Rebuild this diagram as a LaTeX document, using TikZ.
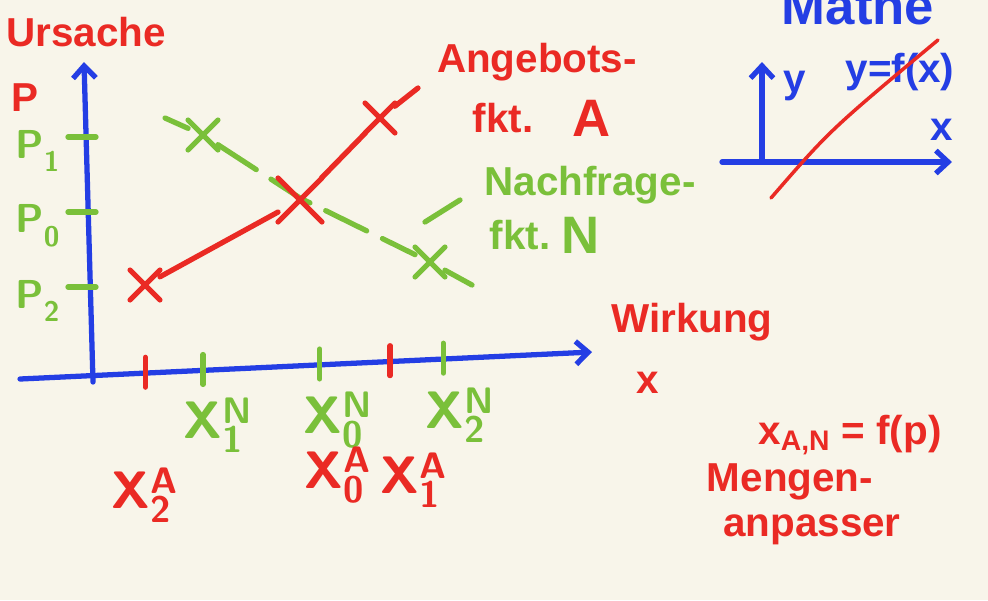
\documentclass[tikz,border=0pt]{standalone}
\usepackage{fontspec}
\setmainfont{Liberation Sans}
\usepackage{tikz}
\usetikzlibrary{positioning,shapes.misc,arrows.meta}

\definecolor{stiftrot}{RGB}{234,42,36}
\definecolor{stiftgruen}{RGB}{122,192,58}
\definecolor{stiftblau}{RGB}{36,62,228}
\definecolor{papier}{RGB}{248,245,234}

\newcommand{\mlab}[3]{\ensuremath{\mathsf{#1}^{\mathsf{#2}}_{\mathsf{#3}}}}

\tikzset{
  achse/.style={stiftblau, line width=3pt, -{Straight Barb[length=7pt,width=13pt,line width=3pt]}},
  kreuz/.style={cross out, draw, line width=3pt, minimum size=14pt, inner sep=0pt},
  strich/.style={line width=3pt, line cap=round},
  schrift/.style={font=\fontsize{23}{25}\selectfont\bfseries\boldmath, inner sep=1pt},
  gross/.style={font=\fontsize{30}{32}\selectfont\bfseries\boldmath, inner sep=1pt}
}

\begin{document}
\begin{tikzpicture}[x=0.02cm, y=-0.02cm, line cap=round]
\fill[papier] (0,0) rectangle (988,600);
\useasboundingbox (0,0) rectangle (988,600);
\clip (0,0) rectangle (988,600);

  % Achsen
  \coordinate (O) at (93,382);
  \coordinate (ytop) at (84,62);
  \coordinate (xstart) at (20,379);
  \coordinate (xend) at (592,352);
  \draw[achse] (O) -- (ytop);
  \draw[achse] (xstart) -- (xend);
  \node[schrift, stiftrot] (ursache) at (86,32) {Ursache};
  \node[schrift, stiftrot] (p) at (25,98) {P};
  \node[schrift, stiftrot] (wirkung) at (692,322) {Wirkung};
  \node[schrift, stiftrot] (x) at (648,383) {x};

  % Preise
  \foreach \name/\y/\i in {p1/137/1, p0/212/0, p2/287/2} {
    \draw[strich, stiftgruen] (68,\y) -- (96,\y);
    \node[schrift, stiftgruen] (\name) at (38,\y+14) {\mlab{P}{}{\i}};
  }

  % Mengen auf der x-Achse
  \path (xstart) -- (xend)
    coordinate[pos=.219] (tA2) coordinate[pos=.320] (tN1)
    coordinate[pos=.524] (tN0) coordinate[pos=.647] (tA1)
    coordinate[pos=.740] (tN2);
  \foreach \t in {tA2, tA1}
    \draw[strich, stiftrot] ([yshift=9pt]\t) -- ([yshift=-8pt]\t);
  \foreach \t in {tN1, tN0, tN2}
    \draw[strich, stiftgruen] ([yshift=9pt]\t) -- ([yshift=-8pt]\t);
  \node[gross, stiftgruen] (xN1) at (218,425) {\mlab{X}{N}{1}};
  \node[gross, stiftgruen] (xN0) at (338,420) {\mlab{X}{N}{0}};
  \node[gross, stiftgruen] (xN2) at (460,415) {\mlab{X}{N}{2}};
  \node[gross, stiftrot] (xA2) at (145,495) {\mlab{X}{A}{2}};
  \node[gross, stiftrot] (xA0) at (338,475) {\mlab{X}{A}{0}};
  \node[gross, stiftrot] (xA1) at (414,480) {\mlab{X}{A}{1}};

  % Nachfrage
  \coordinate (nA) at (165,118);
  \node[kreuz, stiftgruen] (N1) at (203,135) {};
  \coordinate (GG) at (300,198);
  \node[kreuz, stiftgruen] (N2) at (430,262) {};
  \coordinate (nE) at (472,285);
  \draw[strich, stiftgruen, dash pattern=on 26pt off 10pt] (nA) -- (N1) -- (GG) -- (N2) -- (nE);
  \node[schrift, stiftgruen] (nach) at (590,185) {Nachfrage-};
  \node[schrift, stiftgruen] (nfkt) at (520,235) {fkt.};
  \node[gross, stiftgruen, right=4pt of nfkt] (N) {N};
  \coordinate (nl1) at (425,222);
  \coordinate (nl2) at (460,200);
  \draw[strich, stiftgruen] (nl1) -- (nl2);

  % Angebot
  \node[kreuz, stiftrot] (A2) at (145,285) {};
  \node[kreuz, stiftrot, minimum size=22pt] (A0) at (300,200) {};
  \node[kreuz, stiftrot] (A1) at (380,118) {};
  \coordinate (aE) at (418,88);
  \draw[strich, stiftrot] (A2) -- (A0) -- (A1) -- (aE);
  \node[schrift, stiftrot] (ang) at (537,62) {Angebots-};
  \node[schrift, stiftrot] (afkt) at (503,118) {fkt.};
  \node[gross, stiftrot, right=20pt of afkt] (A) {A};

  % Mathe: y = f(x)
  \coordinate (m0) at (762,162);
  \draw[achse] (m0) -- (762,62);
  \draw[achse] (722,162) -- (952,162);
  \node[schrift, stiftblau] (my) at (795,86) {y};
  \node[schrift, stiftblau] (mf) at (900,72) {y=f(x)};
  \node[schrift, stiftblau] (mx) at (942,130) {x};
  \node[gross, stiftblau] (mathe) at (858,6) {Mathe};
  \coordinate (k1) at (771,198);
  \coordinate (k2) at (938,40);
  \draw[stiftrot, line width=2pt] (k1) .. controls (830,130) .. (k2);

  % Mengenanpasser
  \node[schrift, stiftrot] (fkt) at (850,435) {x\textsubscript{A,N} = f(p)};
  \node[schrift, stiftrot] (menge) at (790,482) {Mengen-};
  \node[schrift, stiftrot] (anp) at (812,530) {anpasser};
\end{tikzpicture}
\end{document}
